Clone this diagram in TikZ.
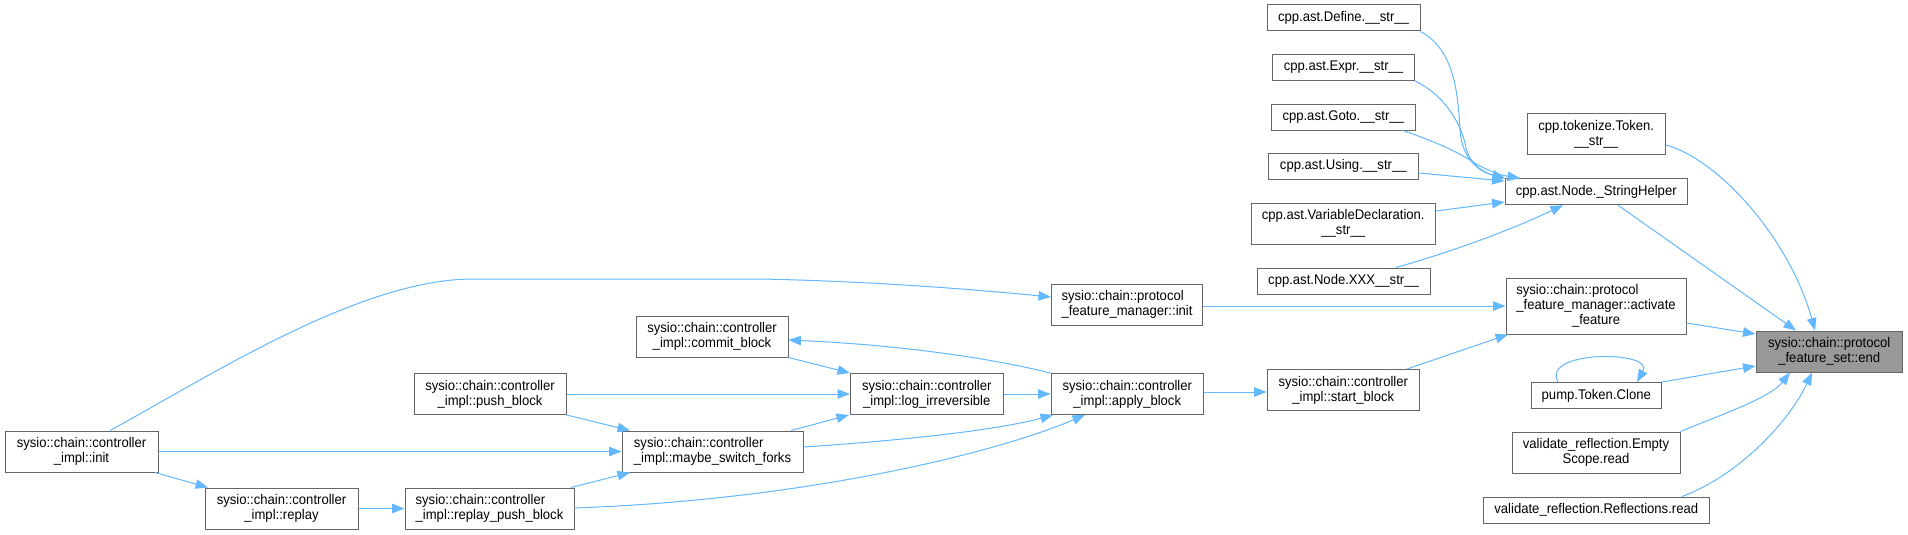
\documentclass[tikz,border=0pt]{standalone}
\usepackage{fontspec}
\setmainfont{Liberation Sans}[FakeStretch=0.935]
\usetikzlibrary{arrows.meta}
\definecolor{edgeblue}{HTML}{63B8FF}
\definecolor{boxgray}{HTML}{666666}
\definecolor{endfill}{HTML}{999999}
\newcommand\leftas[2]{\rlap{#1}\phantom{#2}}
\begin{document}
\begin{tikzpicture}[x=1pt,y=-1pt,
  box/.style={draw=boxgray, fill=white, line width=1pt, inner sep=0pt, align=center,
    font=\fontsize{14}{15}\selectfont, text=black},
  edge/.style={draw=edgeblue, line width=1pt, -{Triangle[length=12.5pt,width=9.5pt]}},
]
\useasboundingbox[fill=white] (0,0) rectangle (1908,535);

% nodes
\node[box, minimum width=153pt, minimum height=41pt] (init) at (81.5,451.5) {sysio::chain::controller\\\_impl::init};
\node[box, minimum width=153pt, minimum height=41pt] (replay) at (281.5,508.5) {sysio::chain::controller\\\_impl::replay};
\node[box, minimum width=169pt, minimum height=41pt] (rpb) at (489.5,508.5) {\leftas{sysio::chain::controller}{\_impl::replay\_push\_block}\\\_impl::replay\_push\_block};
\node[box, minimum width=152pt, minimum height=41pt] (push) at (490,394) {sysio::chain::controller\\\_impl::push\_block};
\node[box, minimum width=181pt, minimum height=41pt] (msf) at (712.5,451.5) {\leftas{sysio::chain::controller}{\_impl::maybe\_switch\_forks}\\\_impl::maybe\_switch\_forks};
\node[box, minimum width=152pt, minimum height=41pt] (commit) at (712,336.5) {sysio::chain::controller\\\_impl::commit\_block};
\node[box, minimum width=152.5pt, minimum height=41pt] (logirr) at (926.75,394) {sysio::chain::controller\\\_impl::log\_irreversible};
\node[box, minimum width=152.5pt, minimum height=41pt] (apply) at (1127.25,394) {sysio::chain::controller\\\_impl::apply\_block};
\node[box, minimum width=151pt, minimum height=41pt] (pfminit) at (1127,304.5) {\leftas{sysio::chain::protocol}{\_feature\_manager::init}\\\_feature\_manager::init};
\node[box, minimum width=152.5pt, minimum height=41pt] (start) at (1343.25,390) {sysio::chain::controller\\\_impl::start\_block};
\node[box, minimum width=180pt, minimum height=56pt] (activate) at (1596,306) {\leftas{sysio::chain::protocol}{\_feature\_manager::activate}\\\_feature\_manager::activate\\\_feature};
\node[box, minimum width=153pt, minimum height=26pt] (define) at (1343.5,18) {cpp.ast.Define.\_\_str\_\_};
\node[box, minimum width=142pt, minimum height=26pt] (expr) at (1343.5,67.5) {cpp.ast.Expr.\_\_str\_\_};
\node[box, minimum width=143.5pt, minimum height=26pt] (goto) at (1343.25,117) {cpp.ast.Goto.\_\_str\_\_};
\node[box, minimum width=149.5pt, minimum height=26pt] (using) at (1343.25,166) {cpp.ast.Using.\_\_str\_\_};
\node[box, minimum width=184.5pt, minimum height=41pt] (vardecl) at (1343.25,223.5) {cpp.ast.VariableDeclaration.\\\_\_str\_\_};
\node[box, minimum width=173pt, minimum height=26pt] (xxx) at (1343.5,281) {cpp.ast.Node.XXX\_\_str\_\_};
\node[box, minimum width=138.5pt, minimum height=41pt] (tok) at (1596.25,134) {cpp.tokenize.Token.\\\_\_str\_\_};
\node[box, minimum width=182.5pt, minimum height=26pt] (sh) at (1596.25,191.75) {cpp.ast.Node.\_StringHelper};
\node[box, minimum width=130.5pt, minimum height=26pt] (clone) at (1596.25,395.5) {pump.Token.Clone};
\node[box, minimum width=168pt, minimum height=41pt] (es) at (1596,452.5) {validate\_reflection.Empty\\Scope.read};
\node[box, minimum width=225.5pt, minimum height=26pt] (refl) at (1596.25,510) {validate\_reflection.Reflections.read};
\node[box, fill=endfill, minimum width=146.5pt, minimum height=41pt] (end) at (1829.25,351.5) {sysio::chain::protocol\\\_feature\_set::end};

% edges
\draw[edge] (init.north -| 110,0) .. controls (210,376) and (360,279) .. (473,279) -- (760,279) .. controls (860,281) and (960,288) .. (pfminit.west |- 0,297);
\draw[edge] (init.east) -- (msf.west);
\draw[edge] (init.south -| 155,0) -- (replay.north -| 208,0);
\draw[edge] (replay.east) -- (rpb.west);
\draw[edge] (push.east) -- (logirr.west);
\draw[edge] (push.south east) -- (msf.north -| 630,0);
\draw[edge] (rpb.north -| 571,0) -- (msf.south -| 630,0);
\draw[edge] (rpb.east |- 0,508) .. controls (800,500) and (990,455) .. (apply.south -| 1085,0);
\draw[edge] (msf.north -| 791,0) -- (logirr.south -| 849,0);
\draw[edge] (msf.east |- 0,447) .. controls (880,442) and (990,432) .. (apply.south -| 1053,0);
\draw[edge] (commit.south east) -- (logirr.north west);
\draw[edge] (logirr.east) -- (apply.west);
\draw[edge] (apply.north west) .. controls (990,358) and (900,345) .. (commit.east |- 0,340);
\draw[edge] (apply.east |- 0,392) -- (start.west |- 0,392);
\draw[edge] (pfminit.east |- 0,306) -- (activate.west |- 0,306);
\draw[edge] (start.north -| 1407,0) -- (activate.south -| 1508,0);
\draw[edge] (activate.east |- 0,323) -- (end.west |- 0,334);
\draw[edge] (clone.north east) -- (end.west |- 0,366);
\draw[edge] (sh.south -| 1618,0) -- (end.north -| 1796,0);
\draw[edge] (tok.east |- 0,145) .. controls (1720,160) and (1790,240) .. (end.north -| 1815,0);
\draw[edge] (es.north east) .. controls (1720,415) and (1770,398) .. (end.south -| 1790,0);
\draw[edge] (refl.north -| 1682,0) .. controls (1740,475) and (1790,420) .. (end.south -| 1812,0);
\draw[edge] (clone.north -| 1558,0) .. controls (1540,350) and (1655,350) .. (clone.north -| 1637,0);
\draw[edge] (define.south east) .. controls (1455,50) and (1458,95) .. (1460,130) .. controls (1462,160) and (1480,172) .. (sh.north -| 1505,0);
\draw[edge] (expr.south east) .. controls (1445,95) and (1462,125) .. (1466,148) .. controls (1470,165) and (1485,173) .. (sh.north -| 1505,0);
\draw[edge] (goto.south -| 1403,0) .. controls (1430,140) and (1450,148) .. (1470,160) .. controls (1485,170) and (1500,175) .. (sh.north -| 1520,0);
\draw[edge] (using.east |- 0,173) -- (sh.west |- 0,181);
\draw[edge] (vardecl.east |- 0,211) -- (sh.west |- 0,202);
\draw[edge] (xxx.north -| 1396,0) .. controls (1440,255) and (1500,235) .. (sh.south -| 1563,0);
\end{tikzpicture}
\end{document}
